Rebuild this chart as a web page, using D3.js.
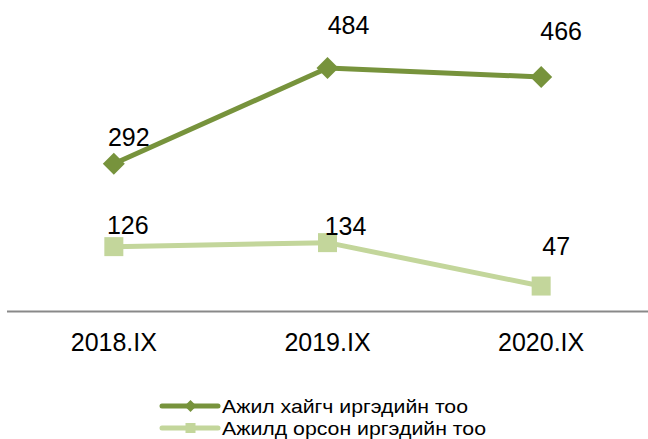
<!DOCTYPE html>
<html>
<head>
<meta charset="utf-8">
<script src="https://cdn.jsdelivr.net/npm/d3@7"></script>
<style>
  body { margin: 0; background: #fff; }
  text { font-family: "Liberation Sans", Arial, sans-serif; fill: #000; }
</style>
</head>
<body>
<div id="chart"></div>
<script>
// data
const categories = ["2018.IX", "2019.IX", "2020.IX"];
const seekers = [292, 484, 466];   // Ажил хайгч иргэдийн тоо
const placed = [126, 134, 47];     // Ажилд орсон иргэдийн тоо
const seriesNames = ["Ажил хайгч иргэдийн тоо", "Ажилд орсон иргэдийн тоо"];

// label nudges (layout only), dx / dy of baseline from the point
const seekerLabelShift = [[15, -18], [21, -34], [20, -37]];
const placedLabelShift = [[14, -13], [18, -8], [15, -31]];

const width = 648, height = 439;
const darkGreen = "#77933C";
const lightGreen = "#C3D69B";

const svg = d3.select("#chart")
    .append("svg")
    .attr("width", width)
    .attr("height", height);

const x = d3.scalePoint()
    .domain(categories)
    .range([7, 648])
    .padding(0.5);

const y = d3.scaleLinear()
    .domain([0, 600])
    .range([309.5, 10.1]);

// axis line
svg.append("line")
    .attr("x1", 7).attr("x2", 648)
    .attr("y1", y(0) + 2).attr("y2", y(0) + 2)
    .attr("stroke", "#898989")
    .attr("stroke-width", 2);

// category labels
svg.selectAll(".cat")
    .data(categories)
    .enter()
    .append("text")
    .attr("class", "cat")
    .attr("x", d => x(d))
    .attr("y", 351)
    .attr("text-anchor", "middle")
    .style("font-size", "25px")
    .text(d => d);

const series = [
    { name: seriesNames[0], values: seekers, color: darkGreen, marker: "diamond", shift: seekerLabelShift, legendWidth: 246 },
    { name: seriesNames[1], values: placed, color: lightGreen, marker: "square", shift: placedLabelShift, legendWidth: 264 }
];

const line = d3.line()
    .x((d, i) => x(categories[i]))
    .y(d => y(d));

function drawMarker(g, type, cx, cy, size, color) {
    if (type === "diamond") {
        const h = size / 2;
        g.append("path")
            .attr("d", `M${cx},${cy - h}L${cx + h},${cy}L${cx},${cy + h}L${cx - h},${cy}Z`)
            .attr("fill", color);
    } else {
        g.append("rect")
            .attr("x", cx - size / 2)
            .attr("y", cy - size / 2)
            .attr("width", size)
            .attr("height", size)
            .attr("fill", color);
    }
}

// draw light series first, dark on top
series.slice().reverse().forEach(s => {
    const g = svg.append("g");
    g.append("path")
        .datum(s.values)
        .attr("d", line)
        .attr("fill", "none")
        .attr("stroke", s.color)
        .attr("stroke-width", 5)
        .attr("stroke-linejoin", "round");

    s.values.forEach((v, i) => {
        drawMarker(g, s.marker, x(categories[i]), y(v), s.marker === "diamond" ? 22 : 19, s.color);
    });

    g.selectAll(".lbl")
        .data(s.values)
        .enter()
        .append("text")
        .attr("class", "lbl")
        .attr("x", (d, i) => x(categories[i]) + s.shift[i][0])
        .attr("y", (d, i) => y(d) + s.shift[i][1])
        .attr("text-anchor", "middle")
        .style("font-size", "25px")
        .text(d => d);
});

// legend (tight, like the original)
const legend = svg.append("g");
series.forEach((s, i) => {
    const ly = 406 + i * 22;
    legend.append("line")
        .attr("x1", 162).attr("x2", 218)
        .attr("y1", ly).attr("y2", ly)
        .attr("stroke", s.color)
        .attr("stroke-width", 5)
        .attr("stroke-linecap", "round");
    drawMarker(legend, s.marker, 190.5, ly, s.marker === "diamond" ? 12 : 10, s.color);
    legend.append("text")
        .attr("x", 222)
        .attr("y", ly + 7)
        .attr("textLength", s.legendWidth)
        .attr("lengthAdjust", "spacingAndGlyphs")
        .style("font-size", "19px")
        .text(s.name);
});
</script>
</body>
</html>
